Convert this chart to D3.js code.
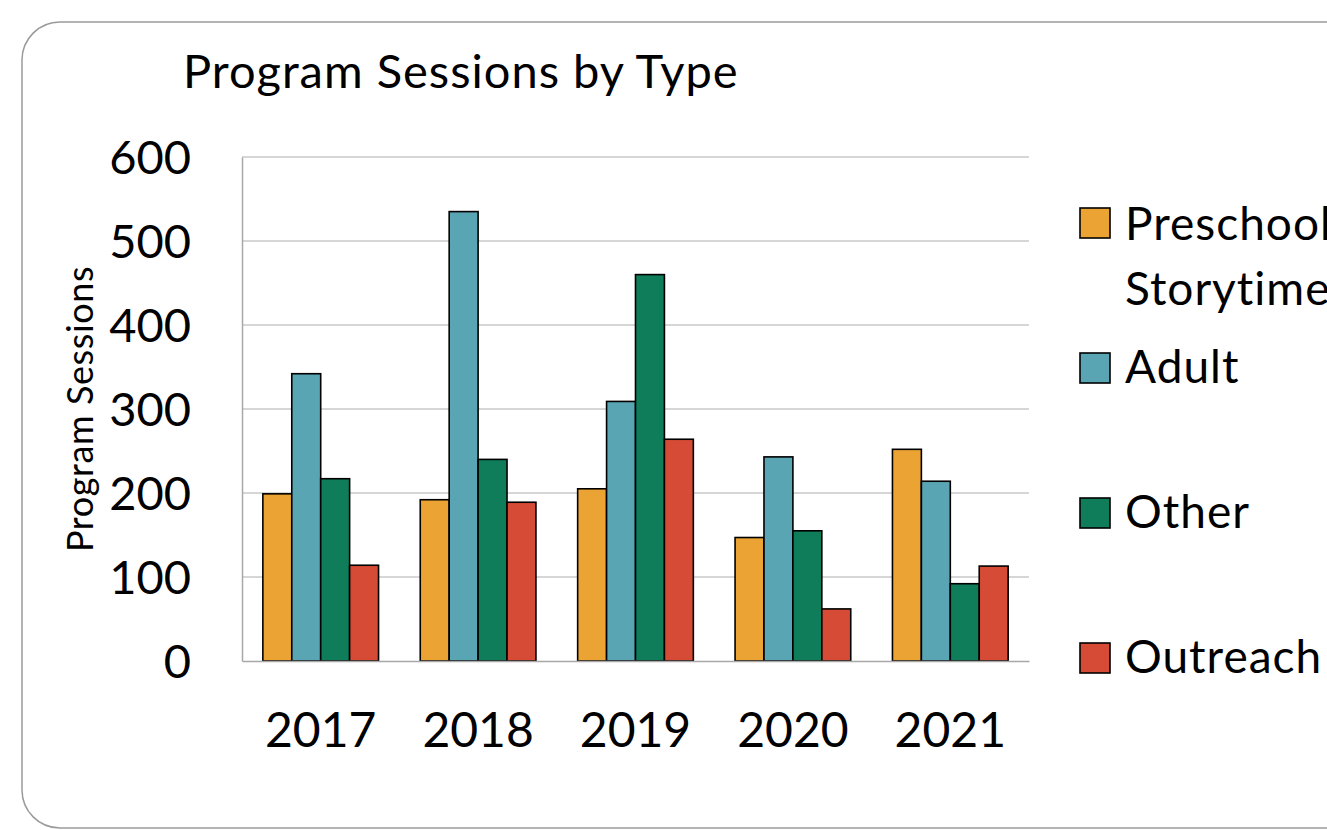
<!DOCTYPE html>
<html>
<head>
<meta charset="utf-8">
<script src="https://cdn.jsdelivr.net/npm/d3@7"></script>
<style>
  html, body { margin: 0; padding: 0; background: #fff; overflow: hidden; }
  svg { display: block; font-family: Lato, "Open Sans", sans-serif; }
</style>
</head>
<body>
<svg id="chart" width="1327" height="830"></svg>
<script>
// Program sessions per year, by program type
const years = ["2017", "2018", "2019", "2020", "2021"];
const seriesNames = ["Preschool Storytime", "Adult", "Other", "Outreach"];
const preschool = [199, 192, 205, 147, 252];
const adult = [342, 535, 309, 243, 214];
const other = [217, 240, 460, 155, 92];
const outreach = [114, 189, 264, 62, 113];
const yTicks = [0, 100, 200, 300, 400, 500, 600];
const colors = ["#EBA434", "#5AA5B3", "#0F7D5A", "#D64B35"];

const seriesValues = [preschool, adult, other, outreach];
const rows = years.map((y, i) => ({
  year: y,
  values: seriesNames.map((name, s) => ({ name, s, value: seriesValues[s][i] }))
}));

const svg = d3.select("#chart");

// Rounded chart frame
svg.append("rect")
  .attr("x", 22).attr("y", 22)
  .attr("width", 1400).attr("height", 806)
  .attr("rx", 38).attr("ry", 38)
  .attr("fill", "#fff")
  .attr("stroke", "#9a9a9a")
  .attr("stroke-width", 1.5);

const plot = { left: 242, right: 1029, top: 157, bottom: 661 };

const y = d3.scaleLinear().domain([0, 600]).range([plot.bottom, plot.top]);
const x0 = d3.scaleBand().domain(years).range([plot.left, plot.right]).padding(0);
const step = x0.bandwidth();
const gap = step * (1 - 0.735) / 2;
const x1 = d3.scaleBand().domain(seriesNames).range([gap, step - gap]).padding(0);

// Horizontal gridlines
svg.append("g")
  .selectAll("line")
  .data(yTicks.filter(t => t > 0))
  .join("line")
  .attr("x1", plot.left).attr("x2", plot.right)
  .attr("y1", d => y(d)).attr("y2", d => y(d))
  .attr("stroke", "#c9c9c9")
  .attr("stroke-width", 1.5);

// Y axis
const yAxis = svg.append("g")
  .attr("transform", `translate(${plot.left},0)`)
  .call(d3.axisLeft(y).tickValues(yTicks).tickSize(0).tickPadding(51));
yAxis.select(".domain").attr("stroke", "#a8a8a8").attr("stroke-width", 1.5);
yAxis.selectAll("text")
  .attr("font-size", 47)
  .attr("font-family", "Lato, sans-serif")
  .attr("fill", "#000")
  .attr("dy", "0.36em");

// Bars
const groups = svg.append("g")
  .selectAll("g")
  .data(rows)
  .join("g")
  .attr("transform", d => `translate(${x0(d.year)},0)`);

groups.selectAll("rect")
  .data(d => d.values)
  .join("rect")
  .attr("x", d => x1(d.name))
  .attr("y", d => y(d.value))
  .attr("width", x1.bandwidth())
  .attr("height", d => y(0) - y(d.value))
  .attr("fill", d => colors[d.s])
  .attr("stroke", "#000")
  .attr("stroke-width", 1.6);

// X axis
const xAxis = svg.append("g")
  .attr("transform", `translate(0,${plot.bottom})`)
  .call(d3.axisBottom(x0).tickSize(0).tickPadding(52));
xAxis.select(".domain").attr("stroke", "#a8a8a8").attr("stroke-width", 1.5);
xAxis.selectAll("text")
  .attr("font-size", 48)
  .attr("font-family", "Lato, sans-serif")
  .attr("fill", "#000");

// Title
svg.append("text")
  .attr("x", 183).attr("y", 88)
  .attr("font-size", 47)
  .attr("letter-spacing", 1)
  .attr("fill", "#000")
  .text("Program Sessions by Type");

// Y axis title
svg.append("text")
  .attr("transform", "translate(93,409) rotate(-90)")
  .attr("text-anchor", "middle")
  .attr("font-size", 36)
  .attr("letter-spacing", 0.6)
  .attr("fill", "#000")
  .text("Program Sessions");

// Legend
const legendItems = [
  { s: 0, box: 208, lines: ["Preschool", "Storytime"], base: [240, 305] },
  { s: 1, box: 353, lines: ["Adult"], base: [383] },
  { s: 2, box: 498, lines: ["Other"], base: [528] },
  { s: 3, box: 643, lines: ["Outreach"], base: [673] }
];
const legend = svg.append("g");
legendItems.forEach(item => {
  legend.append("rect")
    .attr("x", 1080).attr("y", item.box)
    .attr("width", 30).attr("height", 30)
    .attr("fill", colors[item.s])
    .attr("stroke", "#000")
    .attr("stroke-width", 1.6);
  item.lines.forEach((t, k) => {
    legend.append("text")
      .attr("x", 1125).attr("y", item.base[k])
      .attr("font-size", 46)
      .attr("letter-spacing", 1)
      .attr("fill", "#000")
      .text(t);
  });
});
</script>
</body>
</html>
